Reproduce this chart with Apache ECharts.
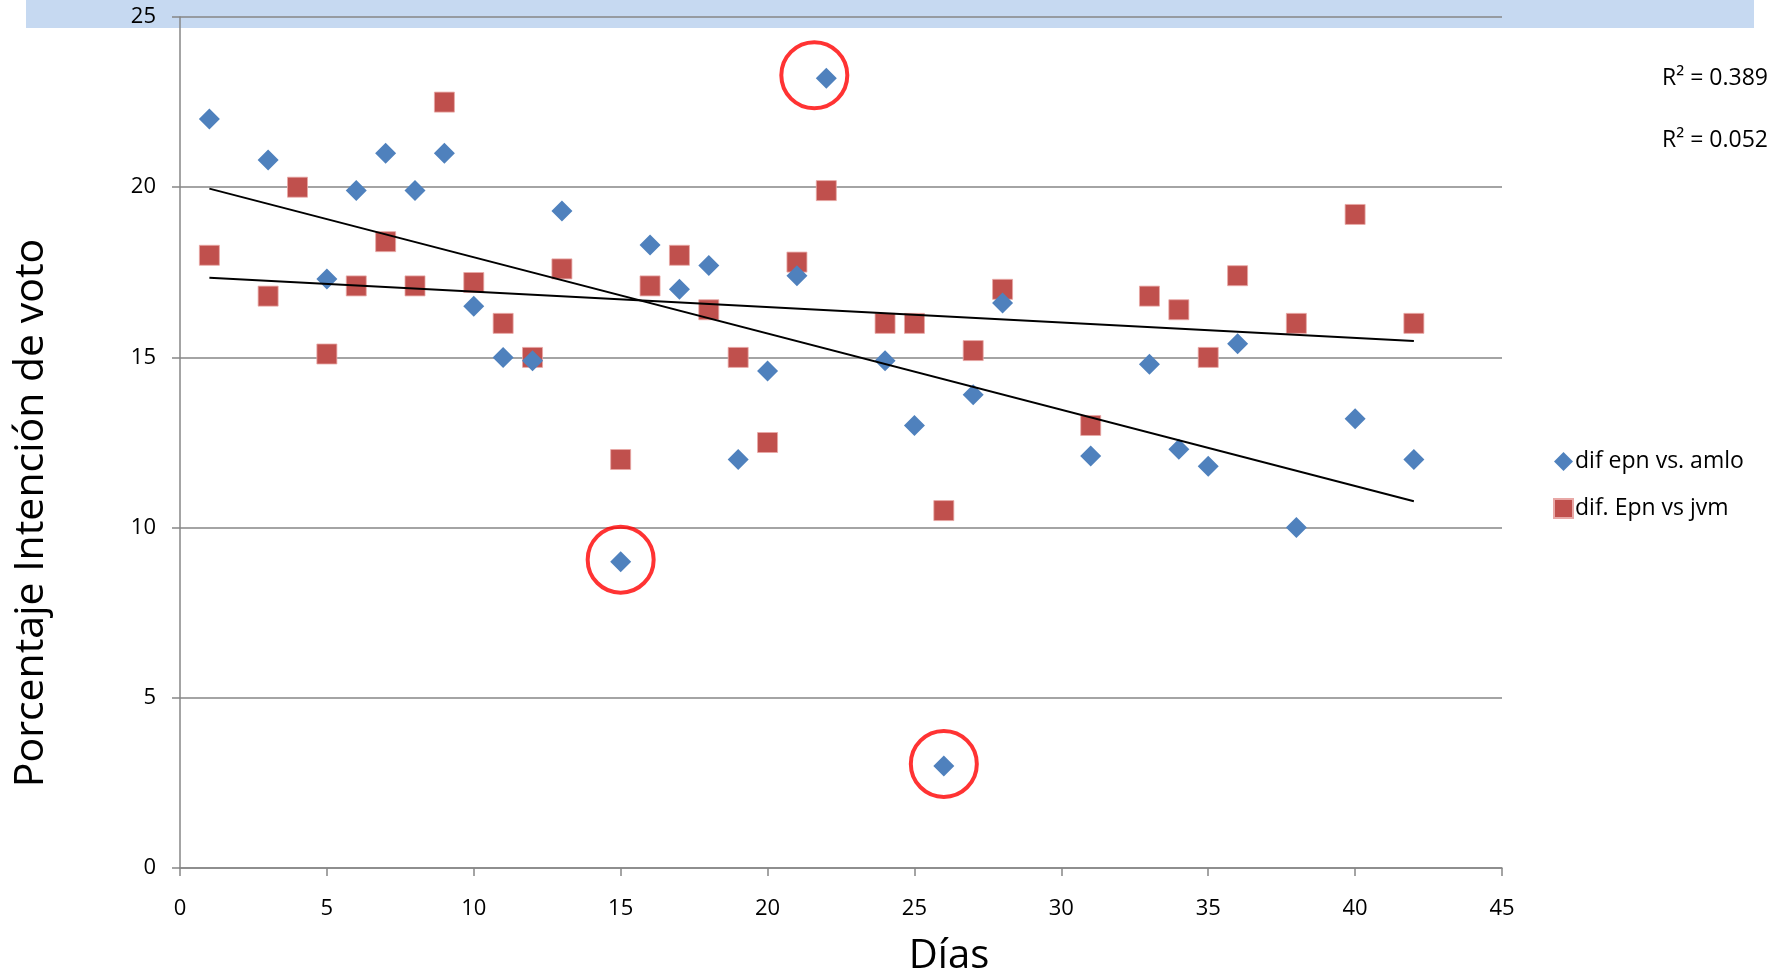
<!DOCTYPE html>
<html>
<head>
<meta charset="utf-8">
<script src="https://cdn.jsdelivr.net/npm/echarts@6/dist/echarts.min.js"></script>
<style>
html,body{margin:0;padding:0;background:#fff;}
#chart{width:1785px;height:974px;}
</style>
</head>
<body>
<div id="chart"></div>
<script>
// ---- data ----
const seriesNames = ['dif epn vs. amlo', 'dif. Epn vs jvm'];
const daysA = [1, 3, 5, 6, 7, 8, 9, 10, 11, 12, 13, 15, 16, 17, 18, 19, 20, 21, 22, 24, 25, 26, 27, 28, 31, 33, 34, 35, 36, 38, 40, 42];
const valsA = [22.0, 20.8, 17.3, 19.9, 21.0, 19.9, 21.0, 16.5, 15.0, 14.9, 19.3, 9.0, 18.3, 17.0, 17.7, 12.0, 14.6, 17.4, 23.2, 14.9, 13.0, 3.0, 13.9, 16.6, 12.1, 14.8, 12.3, 11.8, 15.4, 10.0, 13.2, 12.0];
const daysB = [1, 3, 4, 5, 6, 7, 8, 9, 10, 11, 12, 13, 15, 16, 17, 18, 19, 20, 21, 22, 24, 25, 26, 27, 28, 31, 33, 34, 35, 36, 38, 40, 42];
const valsB = [18.0, 16.8, 20.0, 15.1, 17.1, 18.4, 17.1, 22.5, 17.2, 16.0, 15.0, 17.6, 12.0, 17.1, 18.0, 16.4, 15.0, 12.5, 17.8, 19.9, 16.0, 16.0, 10.5, 15.2, 17.0, 13.0, 16.8, 16.4, 15.0, 17.4, 16.0, 19.2, 16.0];
const circledDays = [22, 15, 26];
const circledVals = [23.2, 9.0, 3.0];
const r2Labels = ['R\u00b2 = 0.389', 'R\u00b2 = 0.052'];
const xTicks = [0, 5, 10, 15, 20, 25, 30, 35, 40, 45];
const yTicks = [0, 5, 10, 15, 20, 25];
const xName = 'Días';
const yName = 'Porcentaje Intención de voto';

function pairs(xs, ys) { return xs.map((x, i) => [x, ys[i]]); }
function trend(xs, ys) {
  const n = xs.length;
  let sx = 0, sy = 0, sxx = 0, sxy = 0;
  for (let i = 0; i < n; i++) { sx += xs[i]; sy += ys[i]; sxx += xs[i] * xs[i]; sxy += xs[i] * ys[i]; }
  const b = (n * sxy - sx * sy) / (n * sxx - sx * sx);
  const a = (sy - b * sx) / n;
  const x0 = Math.min(...xs), x1 = Math.max(...xs);
  return [[x0, a + b * x0], [x1, a + b * x1]];
}

const FONT = 'Open Sans';
const chart = echarts.init(document.getElementById('chart'));
chart.setOption({
  animation: false,
  backgroundColor: '#ffffff',
  textStyle: { fontFamily: FONT },
  grid: { left: 180, right: 283, top: 17, bottom: 106, containLabel: false },
  xAxis: {
    type: 'value', min: xTicks[0], max: xTicks[xTicks.length - 1], interval: 5,
    axisLine: { show: true, onZero: false, lineStyle: { color: '#868686', width: 1.5 } },
    axisTick: { show: true, length: 8, lineStyle: { color: '#868686', width: 1.5 } },
    axisLabel: { fontFamily: FONT, fontSize: 22, color: '#000', margin: 30 },
    splitLine: { show: false }
  },
  yAxis: {
    type: 'value', min: yTicks[0], max: yTicks[yTicks.length - 1], interval: 5,
    axisLine: { show: true, lineStyle: { color: '#868686', width: 1.5 } },
    axisTick: { show: true, length: 8, lineStyle: { color: '#868686', width: 1.5 } },
    axisLabel: { fontFamily: FONT, fontSize: 22, color: '#000', margin: 24 },
    splitLine: { show: true, lineStyle: { color: '#868686', width: 1.5 } }
  },
  legend: {
    data: [
      { name: seriesNames[0], icon: 'diamond' },
      { name: seriesNames[1], icon: 'rect' }
    ],
    orient: 'vertical', left: 1548, top: 445,
    itemWidth: 19, itemHeight: 19, itemGap: 24,
    textStyle: { fontFamily: FONT, fontSize: 23, color: '#000', padding: [0, 0, 0, -3] }
  },
  graphic: [
    { type: 'rect', z: -100, silent: true, shape: { x: 26, y: 0, width: 1728, height: 28 }, style: { fill: '#c6d9f1' } },
    { type: 'text', right: 17, top: 67, style: { text: r2Labels[0], fontFamily: FONT, fontSize: 23, fill: '#000' } },
    { type: 'text', right: 17, top: 129, style: { text: r2Labels[1], fontFamily: FONT, fontSize: 23, fill: '#000' } },
    { type: 'text', x: 949, y: 957, style: { text: xName, fontFamily: FONT, fontSize: 40, fill: '#000', textAlign: 'center', textVerticalAlign: 'middle' } },
    { type: 'text', x: 31, y: 513, rotation: Math.PI / 2, style: { text: yName, fontFamily: FONT, fontSize: 41, fill: '#000', textAlign: 'center', textVerticalAlign: 'middle' } }
  ],
  series: [
    {
      name: seriesNames[0], type: 'scatter', symbol: 'diamond', symbolSize: 21, z: 4,
      itemStyle: { color: '#4f81bd', opacity: 1 },
      data: pairs(daysA, valsA)
    },
    {
      name: seriesNames[1], type: 'scatter', symbol: 'rect', symbolSize: 20, z: 3,
      itemStyle: { color: '#c0504d', borderColor: '#e8a8a6', borderWidth: 0.8, opacity: 1 },
      data: pairs(daysB, valsB)
    },
    {
      name: 'trendA', type: 'line', symbol: 'none', z: 5, silent: true,
      lineStyle: { color: '#000', width: 2 },
      data: trend(daysA, valsA)
    },
    {
      name: 'trendB', type: 'line', symbol: 'none', z: 5, silent: true,
      lineStyle: { color: '#000', width: 2 },
      data: trend(daysB, valsB)
    },
    {
      name: 'circles', type: 'scatter', symbol: 'circle', symbolSize: 66, z: 6, silent: true,
      itemStyle: { color: 'rgba(0,0,0,0)', borderColor: '#ff0000', borderWidth: 4 },
      data: pairs(circledDays, circledVals).map((p, i) => ({ value: p, symbolOffset: i === 0 ? [-12, -3] : [0, -2] }))
    }
  ]
});
</script>
</body>
</html>
